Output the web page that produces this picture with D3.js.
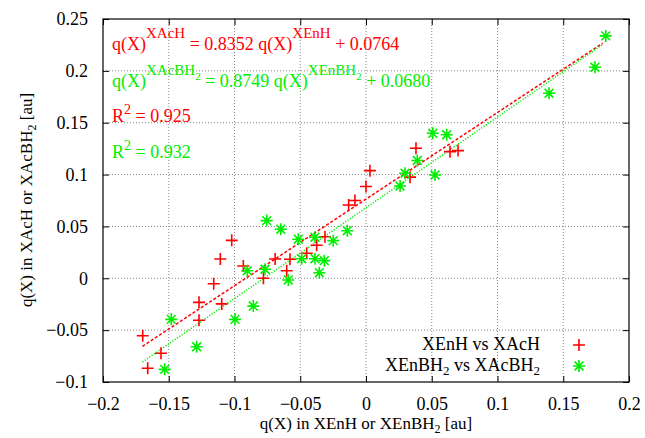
<!DOCTYPE html>
<html><head><meta charset="utf-8">
<script src="https://cdn.jsdelivr.net/npm/d3@7/dist/d3.min.js"></script>
<style>
html,body{margin:0;padding:0;background:#fff;}
text{font-family:"Liberation Serif","Times New Roman",serif;}
</style></head>
<body><svg id="c" width="645" height="438"></svg>
<script>
// ---- data ----
const xTicks = [-0.2,-0.15,-0.1,-0.05,0,0.05,0.1,0.15,0.2];
const xTickLabels = ["\u22120.2","\u22120.15","\u22120.1","\u22120.05","0","0.05","0.1","0.15","0.2"];
const yTicks = [-0.1,-0.05,0,0.05,0.1,0.15,0.2,0.25];
const yTickLabels = ["\u22120.1","\u22120.05","0","0.05","0.1","0.15","0.2","0.25"];

const redX = [-0.1698,-0.1660,-0.1559,-0.1270,-0.1270,-0.1158,-0.1108,-0.1097,-0.1021,-0.0933,-0.0780,-0.0691,-0.0603,-0.0578,-0.0451,-0.0375,-0.0312,-0.0132,-0.0084,0.0000,0.0030,0.0335,0.0380,0.0639,0.0700];
const redY = [-0.0554,-0.0868,-0.0723,-0.0232,-0.0405,-0.0052,0.0186,-0.0247,0.0366,0.0118,0.0000,0.0186,0.0073,0.0183,0.0241,0.0318,0.0401,0.0707,0.0750,0.0885,0.1038,0.0975,0.1254,0.1221,0.1231];
const greenX = [-0.1531,-0.1481,-0.1288,-0.0996,-0.0857,-0.0903,-0.0768,-0.0755,-0.0648,-0.0515,-0.0388,-0.0249,-0.0142,-0.0489,-0.0388,-0.0317,-0.0355,-0.0591,0.0259,0.0297,0.0390,0.0525,0.0508,0.0614,0.1392,0.1741,0.1823];
const greenY = [-0.0878,-0.0396,-0.0660,-0.0396,-0.0268,0.0073,0.0087,0.0556,0.0473,0.0377,0.0396,0.0363,0.0459,0.0189,0.0189,0.0170,0.0054,-0.0016,0.0890,0.1013,0.1136,0.0996,0.1398,0.1384,0.1784,0.2035,0.2337];

const fitRed = {slope:0.8352, intercept:0.0764};
const fitGreen = {slope:0.8749, intercept:0.0680};
const fitRange = [-0.17, 0.18];
const r2 = ["0.925","0.932"];

const RED = "#ff0000", GREEN = "#00ee00";
const FS = 18, SUP = 15, SUB = 13, TFS = 17;
// ---- layout ----
const L=103, R=629, T=19, B=382;
const x = d3.scaleLinear().domain([-0.2,0.2]).range([L,R]);
const y = d3.scaleLinear().domain([-0.1,0.25]).range([B,T]);
const svg = d3.select("#c");

// grid
const g = svg.append("g");
xTicks.slice(1,-1).forEach(v=>{
  g.append("line").attr("x1",x(v)).attr("x2",x(v)).attr("y1",T).attr("y2",B)
   .attr("stroke","#888").attr("stroke-width",1).attr("stroke-dasharray","1,2");
});
yTicks.slice(1,-1).forEach(v=>{
  g.append("line").attr("y1",y(v)).attr("y2",y(v)).attr("x1",L).attr("x2",R)
   .attr("stroke","#888").attr("stroke-width",1).attr("stroke-dasharray","1,2");
});

// axes with inward ticks
const tk=6;
const ax = d3.axisBottom(x).tickValues(xTicks).tickFormat((d,i)=>xTickLabels[i]).tickSizeInner(-tk).tickSizeOuter(0).tickPadding(15);
const axT = d3.axisTop(x).tickValues(xTicks).tickFormat("").tickSizeInner(-tk).tickSizeOuter(0);
const ay = d3.axisLeft(y).tickValues(yTicks).tickFormat((d,i)=>yTickLabels[i]).tickSizeInner(-tk).tickSizeOuter(0).tickPadding(15);
const ayR = d3.axisRight(y).tickValues(yTicks).tickFormat("").tickSizeInner(-tk).tickSizeOuter(0);
[[ax,`translate(0,${B})`],[axT,`translate(0,${T})`],[ay,`translate(${L},0)`],[ayR,`translate(${R},0)`]].forEach(([a,t])=>{
  const gg = svg.append("g").attr("transform",t).call(a);
  gg.select(".domain").remove();
  gg.selectAll("text").attr("font-size",FS).attr("font-family","Liberation Serif").attr("fill","#000");
  gg.selectAll("line").attr("stroke","#000");
});
svg.append("rect").attr("x",L).attr("y",T).attr("width",R-L).attr("height",B-T)
  .attr("fill","none").attr("stroke","#000").attr("stroke-width",1.2);

// fit lines
const lineGen = d3.line().x(d=>x(d[0])).y(d=>y(d[1]));
function fitPts(f){return fitRange.map(v=>[v, f.slope*v+f.intercept]);}
svg.append("path").attr("d",lineGen(fitPts(fitRed))).attr("stroke",RED).attr("stroke-width",1.5)
  .attr("fill","none").attr("stroke-dasharray","3,2");
svg.append("path").attr("d",lineGen(fitPts(fitGreen))).attr("stroke",GREEN).attr("stroke-width",1.5)
  .attr("fill","none").attr("stroke-dasharray","1.2,1.6");

// markers
const s=6;
function plus(sel,cx,cy){
  sel.append("path").attr("d",`M${cx-s},${cy}H${cx+s}M${cx},${cy-s}V${cy+s}`)
    .attr("stroke",RED).attr("stroke-width",1.6).attr("fill","none");
}
function star(sel,cx,cy){
  const d=4.4;
  sel.append("path").attr("d",`M${cx-s},${cy}H${cx+s}M${cx},${cy-s}V${cy+s}M${cx-d},${cy-d}L${cx+d},${cy+d}M${cx-d},${cy+d}L${cx+d},${cy-d}`)
    .attr("stroke",GREEN).attr("stroke-width",1.6).attr("fill","none");
}
const pg = svg.append("g");
redX.forEach((v,i)=>plus(pg,x(v),y(redY[i])));
greenX.forEach((v,i)=>star(pg,x(v),y(greenY[i])));

// annotations
function rich(parent, xx, yy, parts, color, anchor, base){
  const b = base||FS;
  const t = parent.append("text").attr("x",xx).attr("y",yy).attr("fill",color)
    .attr("font-size",b).attr("text-anchor",anchor||"start");
  let cur=0;
  parts.forEach(p=>{
    const off = p[1]||0, fs = p[2]||b;
    t.append("tspan").attr("dy",off-cur).attr("font-size",fs).text(p[0]);
    cur=off;
  });
  return t;
}
rich(svg,112,50,[["q(X)"],["XAcH",-12,SUP],[" = 0.8352 q(X)",0],["XEnH",-12,SUP],[" + 0.0764",0]],RED);
rich(svg,112,87,[["q(X)"],["XAcBH",-12,SUP],["2",-7,11],[" = 0.8749 q(X)",0],["XEnBH",-12,SUP],["2",-7,11],[" + 0.0680",0]],GREEN);
rich(svg,112,122,[["R"],["2",-8,14],[" = "+r2[0],0]],RED);
rich(svg,112,158,[["R"],["2",-8,14],[" = "+r2[1],0]],GREEN);

// legend
rich(svg,540,350,[["XEnH vs XAcH"]],"#000","end");
rich(svg,540,371,[["XEnBH"],["2",4,SUB],[" vs XAcBH",0],["2",4,SUB]],"#000","end");
plus(svg,579,345);
star(svg,579,366);

// axis titles
rich(svg,366,429,[["q(X) in XEnH or XEnBH"],["2",4,12],[" [au]",0]],"#000","middle",TFS);
const yl = svg.append("g").attr("transform","translate(32,200) rotate(-90)");
rich(yl,0,0,[["q(X) in XAcH or XAcBH"],["2",4,12],[" [au]",0]],"#000","middle",TFS);
</script></body></html>
